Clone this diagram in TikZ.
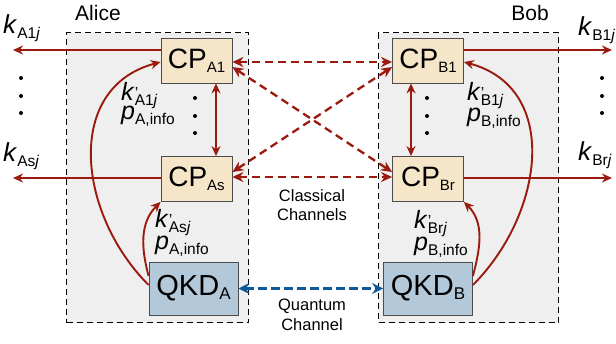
\documentclass[tikz,border=0pt]{standalone}
\usepackage{fontspec}
\setmainfont{Liberation Sans}
\usetikzlibrary{arrows.meta}
\definecolor{cpred}{HTML}{9A1A0E}
\definecolor{qblue}{HTML}{0C5A9A}
\definecolor{cpfill}{HTML}{F5E6CA}
\definecolor{qfill}{HTML}{B3C8D8}
\definecolor{bgfill}{HTML}{EFEFEF}
\newcommand\sbb[1]{\raisebox{-4pt}{\fontsize{15}{15}\selectfont #1}}
\newcommand\sbl[1]{\raisebox{-4pt}{\fontsize{17}{17}\selectfont #1}}
\newcommand\sbm[1]{\raisebox{-5pt}{\fontsize{15.5}{15.5}\selectfont #1}}
\newcommand\kpr{\textit{k}\rlap{\raisebox{2pt}{\fontsize{16}{16}\selectfont\char"27}}}
\tikzset{
  party/.style={draw=black, fill=bgfill, dashed, dash pattern=on 6pt off 4pt, line width=1.3pt},
  cpbox/.style={draw=black!70, fill=cpfill, line width=0.8pt, minimum width=71pt, minimum height=45pt, inner sep=0pt, font=\fontsize{28}{28}\selectfont},
  qkdbox/.style={draw=black!70, fill=qfill, line width=0.8pt, minimum width=89pt, minimum height=53pt, inner sep=0pt, font=\fontsize{29}{29}\selectfont},
  redarr/.style={draw=cpred, line width=1.9pt, -{Stealth[length=10pt,width=9pt]}},
  redbi/.style={draw=cpred, line width=1.9pt, {Stealth[length=10pt,width=9pt]}-{Stealth[length=10pt,width=9pt]}},
  reddash/.style={draw=cpred, line width=2.3pt, dash pattern=on 8pt off 5pt, {Stealth[length=11pt,width=10pt]}-{Stealth[length=11pt,width=10pt]}},
  bluedash/.style={draw=qblue, line width=3.8pt, dash pattern=on 9pt off 4pt, {Stealth[length=11pt,width=11pt]}-{Stealth[length=11pt,width=11pt]}},
  klab/.style={font=\fontsize{26}{26}\selectfont, inner sep=0pt, anchor=base west},
  plab/.style={font=\fontsize{25}{25}\selectfont, inner sep=0pt, anchor=base west},
  chlab/.style={font=\fontsize{16.5}{19.5}\selectfont, align=center, inner sep=0pt},
  dot/.style={circle, fill=black, inner sep=0pt, minimum size=4pt},
}
\begin{document}
\begin{tikzpicture}[x=1pt,y=-1pt]
\useasboundingbox (0,0) rectangle (616,343);
% party boxes
\node[party, minimum width=182pt, minimum height=290pt, anchor=north west, inner sep=0pt] (alice) at (66,32) {};
\node[party, minimum width=180pt, minimum height=290pt, anchor=north west, inner sep=0pt] (bob) at (378,32) {};
\node[font=\fontsize{21}{21}\selectfont, inner sep=0pt, anchor=base] (alicelab) at (98,20) {Alice};
\node[font=\fontsize{21}{21}\selectfont, inner sep=0pt, anchor=base] (boblab) at (530,20) {Bob};
% boxes
\node[cpbox] (cpa1) at (196.5,60.5) {CP\sbb{A1}};
\node[cpbox] (cpas) at (196.5,179) {CP\sbb{As}};
\node[cpbox] (cpb1) at (428,60.5) {CP\sbb{B1}};
\node[cpbox] (cpbr) at (428,179) {CP\sbb{Br}};
\node[qkdbox] (qkda) at (193.5,288.5) {QKD\sbl{A}};
\node[qkdbox] (qkdb) at (428,288.5) {QKD\sbl{B}};
% key outputs
\coordinate (ka1end) at (13,50);
\coordinate (kasend) at (13,178);
\coordinate (kb1end) at (612,50);
\coordinate (kbrend) at (612,178);
\draw[redarr] (cpa1.west |- 0,50) -- (ka1end);
\draw[redarr] (cpas.west |- 0,178) -- (kasend);
\draw[redarr] (cpb1.east |- 0,50) -- (kb1end);
\draw[redarr] (cpbr.east |- 0,178) -- (kbrend);
\node[klab] (ka1) at (3,33) {\textit{k}\sbm{A1\textit{j}}};
\node[klab] (kas) at (3,161) {\textit{k}\sbm{As\textit{j}}};
\node[klab] (kb1) at (578,35) {\textit{k}\sbm{B1\textit{j}}};
\node[klab] (kbr) at (578,160) {\textit{k}\sbm{Br\textit{j}}};
% outer dots
\foreach \y [count=\i] in {78,96,113} {
  \node[dot] (dl\i) at (21,\y) {};
  \node[dot] (dr\i) at (602,\y) {};
  \node[dot] (da\i) at (195,\y+20) {};
  \node[dot] (db\i) at (427,\y+20) {};
}
% vertical CP links
\draw[redbi] (cpa1.south -| 216,0) -- (cpas.north -| 216,0);
\draw[redbi] (cpb1.south -| 411,0) -- (cpbr.north -| 411,0);
% classical channels
\draw[reddash] (cpa1.east |- 0,62) -- (cpb1.west |- 0,62);
\draw[reddash] (cpas.east |- 0,177) -- (cpbr.west |- 0,177);
\draw[reddash] (cpa1.east |- 0,67) -- (cpbr.west |- 0,172);
\draw[reddash] (cpas.east |- 0,172) -- (cpb1.west |- 0,67);
\node[chlab] (cclab) at (312,205) {Classical\\Channels};
% quantum channel
\draw[bluedash] (qkda.east) -- (qkdb.west);
\node[chlab] (qclab) at (312,315) {Quantum\\Channel};
% key delivery curves
\draw[redarr] (qkda.west |- 0,285) to[out=135, in=195, looseness=1.15] (cpa1.west |- 0,62);
\draw[redarr] (qkda.west |- 0,276) to[out=105, in=225, looseness=1.0] (cpas.south west);
\draw[redarr] (qkdb.east |- 0,285) to[out=45, in=-15, looseness=1.15] (cpb1.east |- 0,62);
\draw[redarr] (qkdb.east |- 0,276) to[out=75, in=-45, looseness=1.0] (cpbr.south east);
% labels on curves
\node[plab] (la1k) at (121,100) {\kpr\sbm{A1\textit{j}}};
\node[plab] (la1p) at (121,119) {\textit{p}\sbm{A,info}};
\node[plab] (lask) at (155,227) {\kpr\sbm{As\textit{j}}};
\node[plab] (lasp) at (155,249) {\textit{p}\sbm{A,info}};
\node[plab] (lb1k) at (467,100) {\kpr\sbm{B1\textit{j}}};
\node[plab] (lb1p) at (467,121) {\textit{p}\sbm{B,info}};
\node[plab] (lbrk) at (414,228) {\kpr\sbm{Br\textit{j}}};
\node[plab] (lbrp) at (414,250) {\textit{p}\sbm{B,info}};
\end{tikzpicture}
\end{document}
